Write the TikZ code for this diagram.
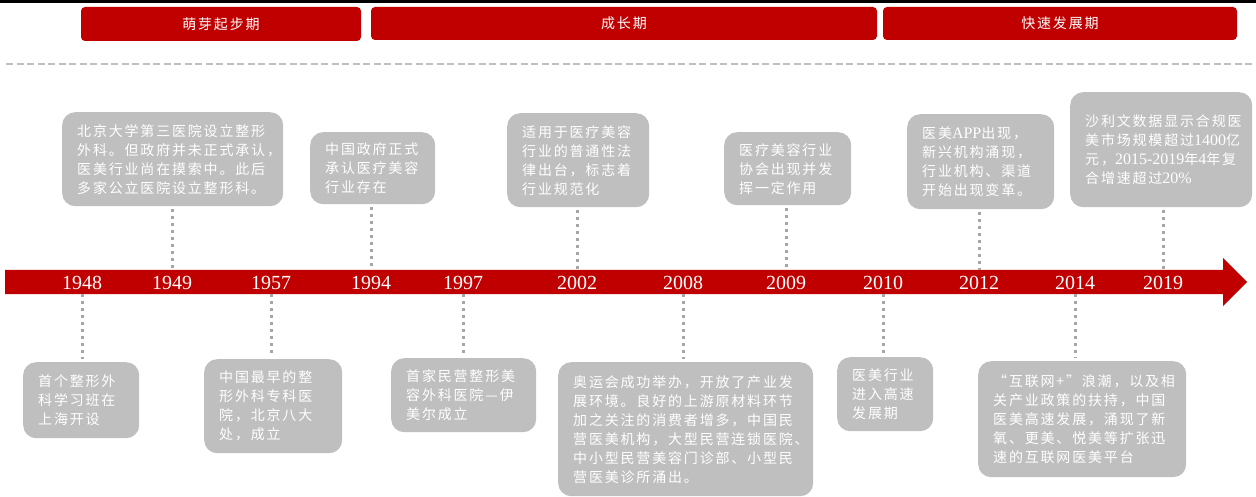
\documentclass[tikz,border=0pt]{standalone}
\usepackage{fontspec}
\usetikzlibrary{calc}
\newfontfamily\cjk[LetterSpace=13]{Noto Sans CJK SC}
\newfontfamily\latf{Liberation Serif}
\definecolor{hred}{HTML}{C00000}
\definecolor{boxgray}{HTML}{BFBFBF}
\definecolor{dotgray}{HTML}{A6A6A6}
\definecolor{dashgray}{HTML}{C0C0C0}
\newcommand\boxfont{\cjk\fontsize{14}{19}\selectfont}
\newcommand\ltn[1]{{\latf\fontsize{16}{19}\selectfont #1}}
\tikzset{
  banner/.style={fill=hred, rounded corners=4pt, text=white, font=\cjk\fontsize{14}{14}\selectfont, inner sep=0pt},
  evbox/.style={fill=boxgray, rounded corners=13pt, text=white, font=\boxfont, align=left, inner xsep=15pt, inner ysep=0pt, anchor=north west},
  year/.style={text=white, font=\latf\fontsize{20}{24}\selectfont, inner sep=0pt},
  dotline/.style={dotgray, line width=3pt, dash pattern=on 3pt off 4pt},
}
\begin{document}
\begin{tikzpicture}[x=1pt,y=-1pt]
\useasboundingbox (0,0) rectangle (1256,497);
\fill[black] (0,0) rectangle (1256,3.5);
% phase banners
\node[banner, minimum width=280pt, minimum height=34pt] (p1) at (221,24) {萌芽起步期};
\node[banner, minimum width=506pt, minimum height=33pt] (p2) at (624,23.5) {成长期};
\node[banner, minimum width=354pt, minimum height=33pt] (p3) at (1060,23.5) {快速发展期};
\draw[dashgray, line width=2.5pt, dash pattern=on 7pt off 3.5pt] (6,64) -- (1256,64);
% timeline band
\fill[hred] (5,270) -- (1223,270) -- (1223,258) -- (1247,282) -- (1223,306) -- (1223,294) -- (5,294) -- cycle;
\coordinate (bandtop) at (0,270);
\coordinate (bandbot) at (0,294);
% years
\node[year] (y1948) at (82,283) {1948};
\node[year] (y1949) at (172,283) {1949};
\node[year] (y1957) at (271,283) {1957};
\node[year] (y1994) at (371,283) {1994};
\node[year] (y1997) at (463,283) {1997};
\node[year] (y2002) at (577,283) {2002};
\node[year] (y2008) at (683,283) {2008};
\node[year] (y2009) at (786,283) {2009};
\node[year] (y2010) at (883,283) {2010};
\node[year] (y2012) at (979,283) {2012};
\node[year] (y2014) at (1075,283) {2014};
\node[year] (y2019) at (1163,283) {2019};
% upper boxes
\node[evbox, text width=191pt, minimum height=94pt] (b1949) at (62,112) {北京大学第三医院设立整形\\外科。但政府并未正式承认，\\医美行业尚在摸索中。此后\\多家公立医院设立整形科。};
\node[evbox, text width=95pt, minimum height=72pt] (b1994) at (310,132) {中国政府正式\\承认医疗美容\\行业存在};
\node[evbox, text width=112pt, minimum height=94pt] (b2002) at (507,113) {适用于医疗美容\\行业的普通性法\\律出台，标志着\\行业规范化};
\node[evbox, text width=97pt, minimum height=73pt] (b2009) at (724,132) {医疗美容行业\\协会出现并发\\挥一定作用};
\node[evbox, text width=117pt, minimum height=95pt] (b2012) at (907,114) {医美\ltn{APP}出现，\\新兴机构涌现，\\行业机构、渠道\\开始出现变革。};
\node[evbox, text width=152pt, minimum height=115pt] (b2019) at (1070,92) {沙利文数据显示合规医\\美市场规模超过\ltn{1400}亿\\元，\ltn{2015-2019}年\ltn{4}年复\\合增速超过\ltn{20\%}};
% lower boxes
\node[evbox, text width=86pt, minimum height=76pt] (a1948) at (23,362) {首个整形外\\科学习班在\\上海开设};
\node[evbox, text width=108pt, minimum height=94pt] (a1957) at (204,359) {中国最早的整\\形外科专科医\\院，北京八大\\处，成立};
\node[evbox, text width=115pt, minimum height=74pt] (a1997) at (391,358) {首家民营整形美\\容外科医院—伊\\美尔成立};
\node[evbox, text width=225pt, minimum height=134pt] (a2008) at (558,362) {奥运会成功举办，开放了产业发\\展环境。良好的上游原材料环节\\加之关注的消费者增多，中国民\\营医美机构，大型民营连锁医院、\\中小型民营美容门诊部、小型民\\营医美诊所涌出。};
\node[evbox, text width=66pt, minimum height=74pt] (a2010) at (837,357) {医美行业\\进入高速\\发展期};
\node[evbox, text width=178pt, minimum height=116pt] (a2014) at (978,361) {“互联网+”浪潮，以及相\\关产业政策的扶持，中国\\医美高速发展，涌现了新\\氧、更美、悦美等扩张迅\\速的互联网医美平台};
% connectors
\foreach \yr in {1949,1994,2002,2009,2012,2019}
  \draw[dotline] ($(y\yr |- b\yr.south)+(0,3)$) -- (y\yr |- bandtop);
\foreach \yr in {1948,1957,1997,2008,2010,2014}
  \draw[dotline] (y\yr |- bandbot) -- ($(y\yr |- a\yr.north)+(0,-3)$);
\end{tikzpicture}
\end{document}
